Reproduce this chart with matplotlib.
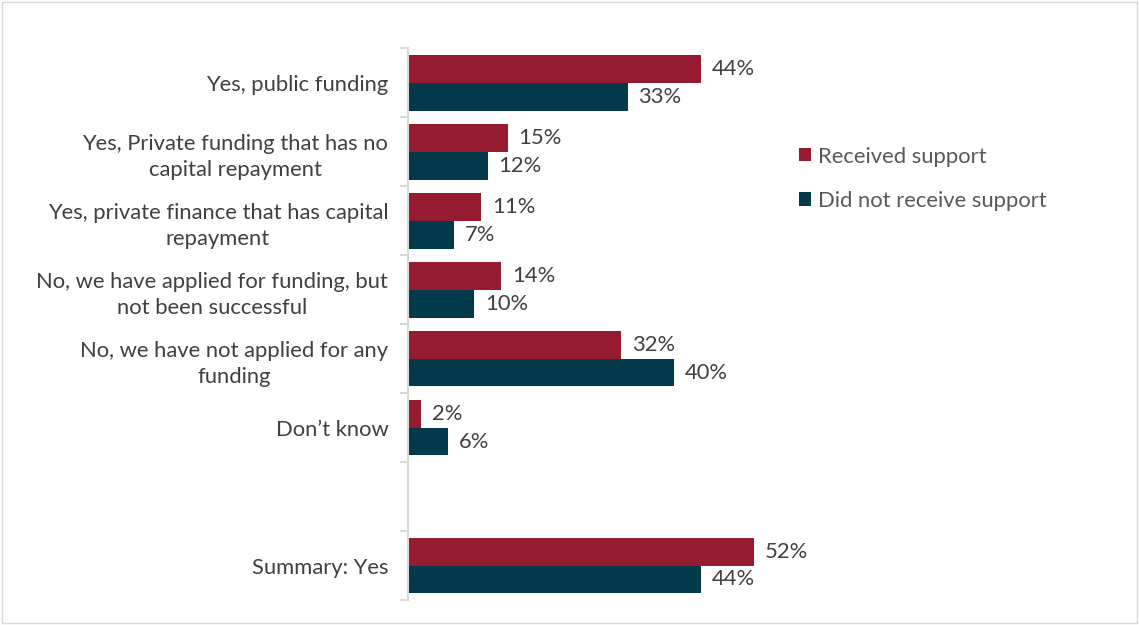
import matplotlib
matplotlib.use("Agg")
import matplotlib.pyplot as plt
from matplotlib.patches import Rectangle
import numpy as np

plt.rcParams['font.family'] = ['Lato', 'DejaVu Sans']

categories = [
    "Yes, public funding",
    "Yes, Private funding that has no\ncapital repayment",
    "Yes, private finance that has capital\nrepayment",
    "No, we have applied for funding, but\nnot been successful",
    "No, we have not applied for any\nfunding",
    "Don\u2019t know",
    "",
    "Summary: Yes",
]
received = [44, 15, 11, 14, 32, 2, None, 52]
not_received = [33, 12, 7, 10, 40, 6, None, 44]
series_names = ["Received support", "Did not receive support"]

RED = "#951B30"
TEAL = "#023A4B"
TEXT = "#404040"
GRID = "#D9D9D9"
FS = 15.8

fig = plt.figure(figsize=(11.39, 6.25), dpi=100)
ax = fig.add_axes([0.358, 0.04, 0.351, 0.883])

y = np.arange(len(categories))
h = 0.405
for vals, off, col, name in [(received, -h / 2, RED, series_names[0]),
                             (not_received, h / 2, TEAL, series_names[1])]:
    ys = [yy + off for yy, v in zip(y, vals) if v is not None]
    vs = [v for v in vals if v is not None]
    ax.barh(ys, vs, height=h, color=col, label=name)
    for yy, v in zip(ys, vs):
        ax.text(v + 1.6, yy, f"{v}%", va="center", ha="left",
                fontsize=FS, color=TEXT)

ax.set_xlim(0, 60)
ax.set_ylim(len(categories) - 0.5, -0.5)

ax.set_yticks(y)
ax.set_yticklabels(categories, fontsize=FS, color=TEXT,
                   multialignment="center", linespacing=1.4)
ax.tick_params(axis="y", which="major", length=0, pad=14)
ax.set_yticks(np.arange(len(categories) + 1) - 0.5, minor=True)
ax.tick_params(axis="y", which="minor", length=6, color=GRID, width=1.5)
ax.set_xticks([])

for s in ["top", "right", "bottom"]:
    ax.spines[s].set_visible(False)
ax.spines["left"].set_color(GRID)
ax.spines["left"].set_linewidth(1.5)

fig.legend(loc="upper left", bbox_to_anchor=(0.6845, 0.797), frameon=False,
           fontsize=FS, labelcolor="#595959", handlelength=0.55,
           handleheight=0.55, handletextpad=0.3, labelspacing=1.1)

fig.patches.append(Rectangle((0.002, 0.003), 0.996, 0.994, transform=fig.transFigure,
                             fill=False, edgecolor=GRID, linewidth=1))

fig.savefig("out.png", dpi=100)
